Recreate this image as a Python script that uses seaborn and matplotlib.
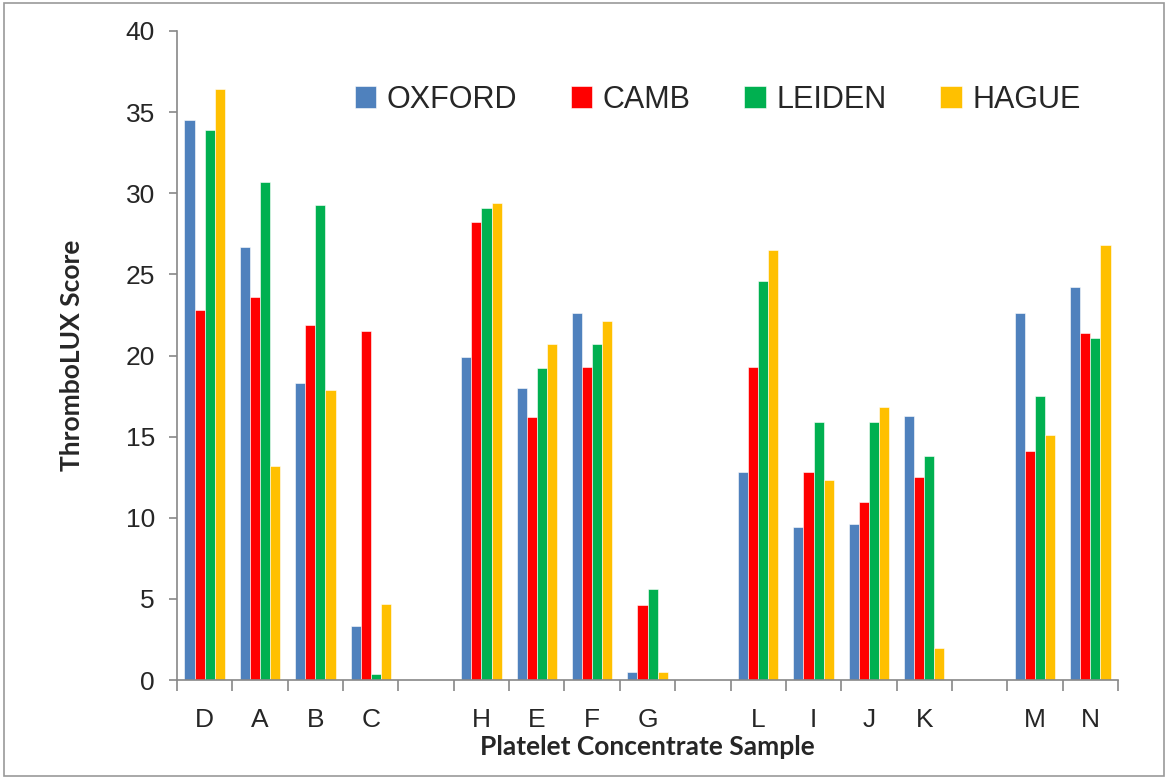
import matplotlib
matplotlib.use("Agg")
import matplotlib.pyplot as plt
import seaborn as sns
import pandas as pd
import numpy as np

categories = ["D", "A", "B", "C", " ", "H", "E", "F", "G", "  ", "L", "I", "J", "K", "   ", "M", "N"]
series = ["OXFORD", "CAMB", "LEIDEN", "HAGUE"]
oxford = [34.5, 26.7, 18.3, 3.3, np.nan, 19.9, 18.0, 22.6, 0.5, np.nan, 12.8, 9.4, 9.6, 16.3, np.nan, 22.6, 24.2]
camb   = [22.8, 23.6, 21.9, 21.5, np.nan, 28.2, 16.2, 19.3, 4.6, np.nan, 19.3, 12.8, 11.0, 12.5, np.nan, 14.1, 21.4]
leiden = [33.9, 30.7, 29.3, 0.4, np.nan, 29.1, 19.2, 20.7, 5.6, np.nan, 24.6, 15.9, 15.9, 13.8, np.nan, 17.5, 21.1]
hague  = [36.4, 13.2, 17.9, 4.7, np.nan, 29.4, 20.7, 22.1, 0.5, np.nan, 26.5, 12.3, 16.8, 2.0, np.nan, 15.1, 26.8]
colors = ["#4F81BD", "#FF0000", "#00B050", "#FFC000"]

rows = []
for name, vals in zip(series, [oxford, camb, leiden, hague]):
    for c, v in zip(categories, vals):
        rows.append({"Sample": c, "Lab": name, "Score": v})
df = pd.DataFrame(rows)

sns.set_theme(style="white")
plt.rcParams["font.family"] = ["Liberation Sans", "DejaVu Sans"]

fig = plt.figure(figsize=(11.68, 7.78), dpi=100)
ax = fig.add_axes([177/1168, 1 - 680/778, (1118-177)/1168, (680-31)/778])

sns.barplot(data=df, x="Sample", y="Score", hue="Lab", order=categories,
            hue_order=series, palette=colors, width=0.73, ax=ax,
            edgecolor="white", linewidth=0.4, saturation=1, errorbar=None)

ax.set_xlim(-0.5, len(categories) - 0.5)
ax.set_ylim(0, 40)
ax.set_yticks(range(0, 41, 5))
ax.tick_params(axis="y", labelsize=19, length=6, color="#888888", width=1.2, pad=10, left=True)
ax.tick_params(axis="x", which="major", labelsize=19, length=0, pad=20)
ax.set_xticks(np.arange(-0.5, len(categories), 1), minor=True)
ax.tick_params(axis="x", which="minor", length=8, color="#888888", width=1.2, bottom=True)

for s in ["top", "right"]:
    ax.spines[s].set_visible(False)
for s in ["left", "bottom"]:
    ax.spines[s].set_color("#888888")
    ax.spines[s].set_linewidth(1.2)

ax.set_xlabel("Platelet Concentrate Sample", fontsize=19, fontweight="bold", labelpad=2,
              family=["Lato", "DejaVu Sans"])
ax.set_ylabel("ThromboLUX Score", fontsize=19, fontweight="bold", labelpad=30,
              family=["Lato", "DejaVu Sans"])

leg = ax.legend(ncol=4, loc="center left", bbox_to_anchor=(0.189, 0.894), frameon=False,
                fontsize=22, handlelength=0.7, handleheight=0.7, columnspacing=1.75,
                handletextpad=0.35, borderpad=0, borderaxespad=0)

border = plt.Rectangle((0.003, 0.002), 0.994, 0.994, transform=fig.transFigure,
                       fill=False, edgecolor="#999999", linewidth=1.2)
fig.patches.append(border)

fig.savefig("out.png", dpi=100)
